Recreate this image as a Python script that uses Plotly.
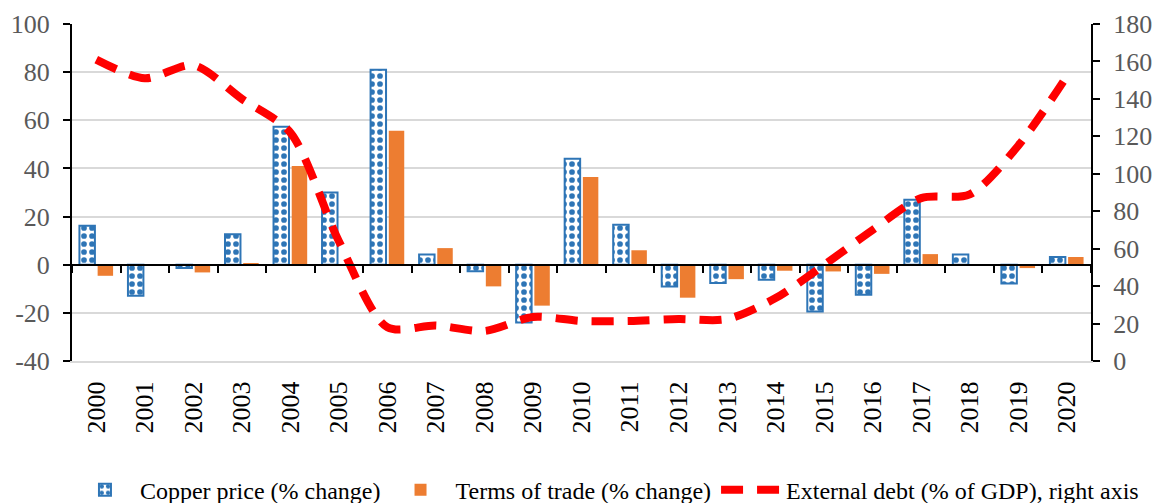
import plotly.graph_objects as go

# Data
years = [str(y) for y in range(2000, 2021)]

copper_price = [16.2, -12.9, -1.4, 12.7, 57.3, 30.0, 81.0, 4.2, -2.7, -24.0,
                44.0, 16.6, -9.0, -7.6, -6.2, -19.4, -12.5, 27.0, 4.2, -7.8, 3.2]

terms_of_trade = [-4.6, 0.0, -3.2, 0.6, 41.0, 0.0, 55.7, 6.9, -9.0, -17.0,
                  36.4, 6.0, -13.7, -6.0, -2.5, -2.8, -3.8, 4.4, 0.0, -1.4, 3.2]

external_debt = [161, 151, 158, 140, 122, 64, 18, 19, 16, 23.5,
                 21.4, 21.4, 22.4, 22.4, 33.6, 51.3, 70, 87, 89, 115, 152]

# left axis ticks use a plain hyphen for negatives, like the original
left_ticks = [-40, -20, 0, 20, 40, 60, 80, 100]
left_labels = ["-40", "-20", "0", "20", "40", "60", "80", "100"]

font_family = "Liberation Serif, Times New Roman, serif"
grey = "#595959"
x_range = [-0.5, len(years) - 0.5]

fig = go.Figure()

fig.add_trace(go.Bar(
    x=years, y=copper_price, name="Copper price (% change)",
    marker=dict(
        color="white",
        line=dict(color="#2E75B6", width=2),
        pattern=dict(shape=".", fgcolor="#2E75B6", bgcolor="white",
                     size=8, solidity=0.4, fillmode="replace"),
    ),
    hovertemplate="%{x}: %{y}<extra></extra>",
))

fig.add_trace(go.Bar(
    x=years, y=terms_of_trade, name="Terms of trade (% change)",
    marker=dict(color="#ED7D31", line=dict(width=0)),
    hovertemplate="%{x}: %{y}<extra></extra>",
))

fig.add_trace(go.Scatter(
    x=years, y=external_debt, name="External debt (% of GDP), right axis",
    yaxis="y2", mode="lines",
    line=dict(color="#FF0000", width=8, dash="22px,14px", shape="spline", smoothing=0.8),
    hovertemplate="%{x}: %{y}<extra></extra>",
))

# invisible helper trace so the zero-line category axis (with ticks) gets drawn
fig.add_trace(go.Scatter(
    x=years, y=[0] * len(years), xaxis="x2", mode="lines",
    line=dict(width=0), showlegend=False, hoverinfo="skip",
))

fig.update_layout(
    width=1160, height=503,
    margin=dict(l=72, r=69, t=24, b=142, autoexpand=False),
    paper_bgcolor="white", plot_bgcolor="white",
    font=dict(family=font_family, size=26, color="black"),
    barmode="group", bargap=0.25, bargroupgap=0.15,
    xaxis=dict(
        type="category", range=x_range, showgrid=False, zeroline=False,
        showline=True, linecolor="#D9D9D9", linewidth=2,
        tickangle=-90, ticks="", tickfont=dict(size=26, color="black"),
        ticklabelstandoff=8, automargin=False,
    ),
    xaxis2=dict(
        type="category", overlaying="x", matches="x", anchor="free",
        position=40 / 140, side="bottom",
        showline=True, linecolor="black", linewidth=2,
        ticks="outside", ticklen=7, tickwidth=2, tickcolor="black",
        tickson="boundaries", showticklabels=False, showgrid=False,
    ),
    yaxis=dict(
        range=[-40, 100], tickvals=left_ticks, ticktext=left_labels,
        showline=True, linecolor="black", linewidth=2,
        ticks="outside", ticklen=7, tickwidth=2, tickcolor="black",
        gridcolor="#D9D9D9", gridwidth=2, zeroline=False,
        tickfont=dict(size=26, color=grey), ticklabelstandoff=8, automargin=False,
    ),
    yaxis2=dict(
        range=[0, 180], dtick=20, overlaying="y", side="right",
        showline=True, linecolor="black", linewidth=2,
        ticks="outside", ticklen=7, tickwidth=2, tickcolor="black",
        showgrid=False, zeroline=False,
        tickfont=dict(size=26, color=grey), ticklabelstandoff=8, automargin=False,
    ),
    legend=dict(
        orientation="h", x=-0.002, xanchor="left", y=-0.383, yanchor="middle",
        font=dict(size=24, color="black"), itemwidth=60,
        bgcolor="rgba(0,0,0,0)",
    ),
    showlegend=True,
)

# drop the default page margin so the figure sits at the window's corner
fig.write_html("out.html", config={"displayModeBar": False},
               post_script="document.body.style.margin='0';")
